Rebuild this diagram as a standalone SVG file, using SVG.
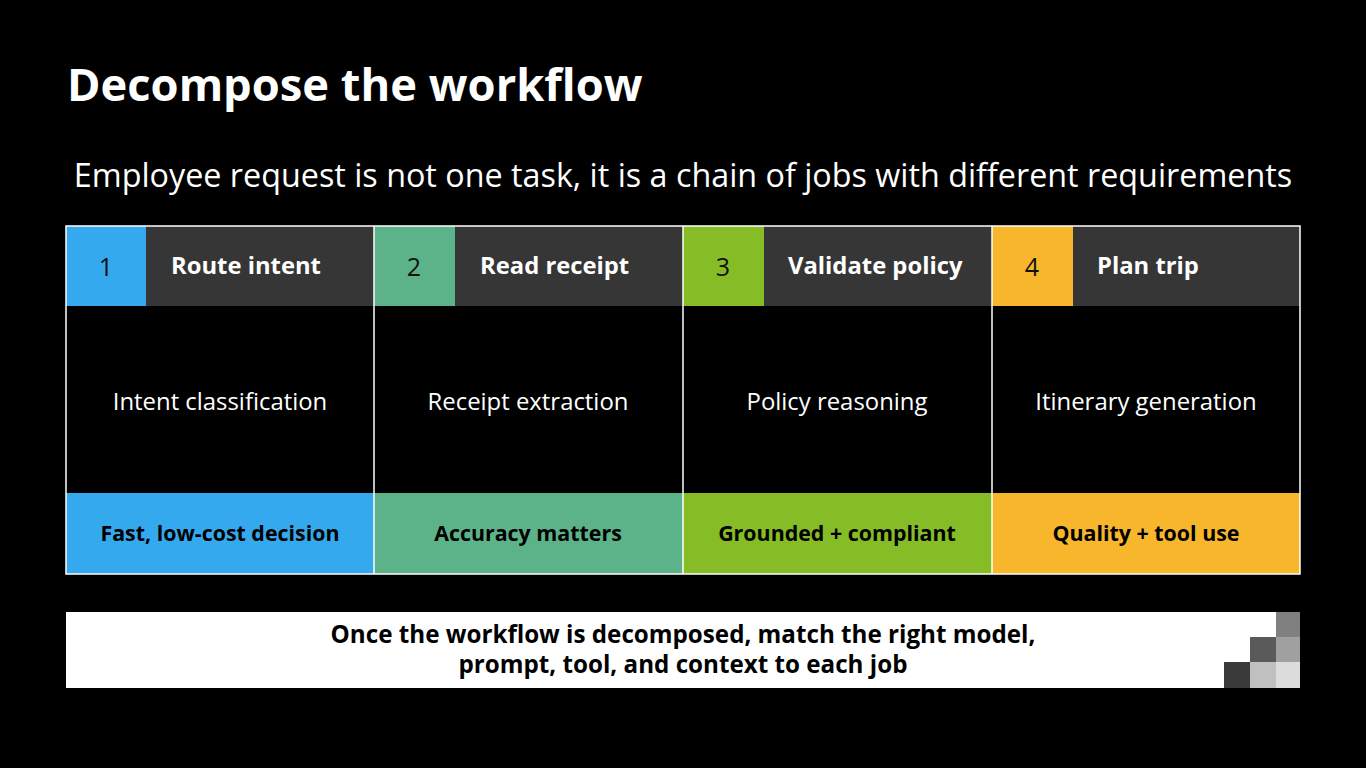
<svg xmlns="http://www.w3.org/2000/svg" width="1366" height="768" viewBox="0 0 1366 768">
<style>
.t{font-family:"Open Sans","Noto Sans",sans-serif}
.title{font-size:45.3px;font-weight:700;fill:#fff}
.sub{font-size:32.3px;fill:#fff}
.num{font-size:25px;fill:#111}
.hd{font-size:23.8px;font-weight:700;fill:#fff}
.mid{font-size:23.9px;fill:#fff}
.bt{font-size:21.4px;font-weight:700;fill:#000}
.ft{font-size:24.2px;font-weight:700;fill:#000}
.hdr{fill:#363636}
.cell{stroke:#fff;stroke-width:1.5;fill:none}
</style>
<rect width="1366" height="768" fill="#000"/>
<text class="t title" x="67" y="101">Decompose the workflow</text>
<text class="t sub" x="683" y="187" text-anchor="middle">Employee request is not one task, it is a chain of jobs with different requirements</text>
<g id="col1">
<rect x="66" y="226" width="308" height="80" class="hdr"/>
<rect x="66" y="226" width="80" height="80" fill="#35A9EE"/>
<rect x="66" y="493" width="308" height="81" fill="#35A9EE"/>
<text class="t num" x="106" y="276" text-anchor="middle">1</text>
<text class="t hd" x="171" y="274">Route intent</text>
<text class="t mid" x="220" y="410" text-anchor="middle">Intent classification</text>
<text class="t bt" x="220" y="541" text-anchor="middle">Fast, low-cost decision</text>
</g>
<g id="col2">
<rect x="374" y="226" width="309" height="80" class="hdr"/>
<rect x="374" y="226" width="81" height="80" fill="#5CB38A"/>
<rect x="374" y="493" width="309" height="81" fill="#5CB38A"/>
<text class="t num" x="414" y="276" text-anchor="middle">2</text>
<text class="t hd" x="480" y="274">Read receipt</text>
<text class="t mid" x="528" y="410" text-anchor="middle">Receipt extraction</text>
<text class="t bt" x="528" y="541" text-anchor="middle">Accuracy matters</text>
</g>
<g id="col3">
<rect x="683" y="226" width="309" height="80" class="hdr"/>
<rect x="683" y="226" width="81" height="80" fill="#86BC25"/>
<rect x="683" y="493" width="309" height="81" fill="#86BC25"/>
<text class="t num" x="723" y="276" text-anchor="middle">3</text>
<text class="t hd" x="788" y="274">Validate policy</text>
<text class="t mid" x="837" y="410" text-anchor="middle">Policy reasoning</text>
<text class="t bt" x="837" y="541" text-anchor="middle">Grounded + compliant</text>
</g>
<g id="col4">
<rect x="992" y="226" width="308" height="80" class="hdr"/>
<rect x="992" y="226" width="81" height="80" fill="#F8B62C"/>
<rect x="992" y="493" width="308" height="81" fill="#F8B62C"/>
<text class="t num" x="1032" y="276" text-anchor="middle">4</text>
<text class="t hd" x="1097" y="274">Plan trip</text>
<text class="t mid" x="1146" y="410" text-anchor="middle">Itinerary generation</text>
<text class="t bt" x="1146" y="541" text-anchor="middle">Quality + tool use</text>
</g>
<g id="grid">
<rect x="66" y="226" width="1234" height="348" class="cell"/>
<line x1="374" y1="226" x2="374" y2="574" class="cell"/>
<line x1="683" y1="226" x2="683" y2="574" class="cell"/>
<line x1="992" y1="226" x2="992" y2="574" class="cell"/>
</g>
<g id="footer">
<rect x="66" y="612" width="1234" height="76" fill="#fff"/>
<rect x="1276" y="612" width="24" height="25" fill="#808080"/>
<rect x="1250" y="637" width="26" height="25" fill="#5a5a5a"/>
<rect x="1276" y="637" width="24" height="25" fill="#a0a0a0"/>
<rect x="1224" y="662" width="26" height="26" fill="#3a3a3a"/>
<rect x="1250" y="662" width="26" height="26" fill="#c0c0c0"/>
<rect x="1276" y="662" width="24" height="26" fill="#dcdcdc"/>
<text class="t ft" x="683" y="643" text-anchor="middle">Once the workflow is decomposed, match the right model,</text>
<text class="t ft" x="683" y="673" text-anchor="middle">prompt, tool, and context to each job</text>
</g>
</svg>
